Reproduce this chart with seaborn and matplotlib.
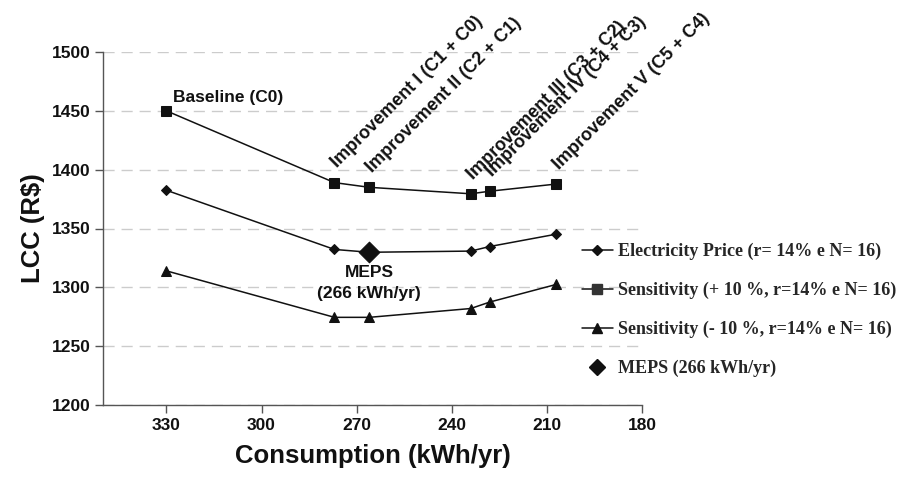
import matplotlib
matplotlib.use("Agg")
import matplotlib.pyplot as plt
import matplotlib.lines as mlines
import pandas as pd
import seaborn as sns

# ---------------------------------------------------------------------------
# Data
# ---------------------------------------------------------------------------
consumption = [330, 277, 266, 234, 228, 207]
lcc_price = [1382.5, 1332.2, 1329.8, 1330.8, 1334.7, 1345.2]
lcc_plus10 = [1450, 1389, 1385, 1379.5, 1381.7, 1387.8]
lcc_minus10 = [1314, 1274.5, 1274.5, 1282, 1287.5, 1302.5]
meps_x = [266]
meps_y = [1329.8]

improvement_labels = [
    "Improvement I (C1 + C0)",
    "Improvement II (C2 + C1)",
    "Improvement III (C3 + C2)",
    "Improvement IV (C4 + C3)",
    "Improvement V (C5 + C4)",
]
series_labels = [
    "Electricity Price (r= 14% e N= 16)",
    "Sensitivity (+ 10 %, r=14% e N= 16)",
    "Sensitivity (- 10 %, r=14% e N= 16)",
    "MEPS (266 kWh/yr)",
]
x_ticks = [330, 300, 270, 240, 210, 180]
y_ticks = [1200, 1250, 1300, 1350, 1400, 1450, 1500]

SANS = ["Liberation Sans", "DejaVu Sans"]
SERIF = ["Liberation Serif", "DejaVu Serif"]
INK = "#111111"

sns.set_theme(style="white")
plt.rcParams["font.family"] = SANS

fig = plt.figure(figsize=(9.12, 4.82), dpi=100)
ax = fig.add_axes([103 / 912, 1 - 405 / 482, (642 - 103) / 912, (405 - 52) / 482])

df = pd.DataFrame({
    "x": consumption,
    "price": lcc_price,
    "plus": lcc_plus10,
    "minus": lcc_minus10,
})

line_kw = dict(color=INK, linewidth=1.1, markeredgecolor=INK, ax=ax, legend=False)
sns.lineplot(data=df, x="x", y="price", marker="D", markersize=5, **line_kw)
sns.lineplot(data=df, x="x", y="plus", marker="s", markersize=7, **line_kw)
sns.lineplot(data=df, x="x", y="minus", marker="^", markersize=7, **line_kw)
sns.scatterplot(x=meps_x, y=meps_y, marker="D", s=110, color=INK,
                edgecolor=INK, ax=ax, legend=False, zorder=5)

# ---- axes ---------------------------------------------------------------
ax.set_xlim(350, 180)
ax.set_ylim(1200, 1500)
ax.set_xticks(x_ticks)
ax.set_yticks(y_ticks)
ax.tick_params(axis="both", which="major", labelsize=12.5, length=6, width=1,
               color="#555555", direction="out", pad=3, left=True, bottom=True)
for lab in ax.get_xticklabels() + ax.get_yticklabels():
    lab.set_fontweight("bold")
    lab.set_color(INK)

ax.yaxis.grid(True, color="#cccccc", linestyle=(0, (8, 5)), linewidth=1)
ax.xaxis.grid(False)
for side in ["top", "right"]:
    ax.spines[side].set_visible(False)
for side in ["left", "bottom"]:
    ax.spines[side].set_color("#555555")
    ax.spines[side].set_linewidth(1)

ax.set_xlabel("Consumption (kWh/yr)", fontsize=18.5, fontweight="bold",
              color=INK, labelpad=8)
ax.set_ylabel("LCC (R\\$)", fontsize=18.5, fontweight="bold", color=INK,
              labelpad=5)

# ---- annotations --------------------------------------------------------
ax.annotate("Baseline (C0)", (consumption[0], lcc_plus10[0]),
            xytext=(5, 4), textcoords="offset points", ha="left", va="bottom",
            fontsize=12.5, fontweight="bold", color=INK)

for xv, yv, lab in zip(consumption[1:], lcc_plus10[1:], improvement_labels):
    ax.annotate(lab, (xv, yv), xytext=(4, 8), textcoords="offset points",
                ha="left", va="bottom", rotation=45, rotation_mode="anchor",
                fontsize=13, fontweight="bold", color=INK,
                annotation_clip=False)

ax.annotate("MEPS\n(266 kWh/yr)", (meps_x[0], meps_y[0]), xytext=(0, -9),
            textcoords="offset points", ha="center", va="top",
            multialignment="center", linespacing=1.5,
            fontsize=12.5, fontweight="bold", color=INK)

# ---- legend -------------------------------------------------------------
handles = [
    mlines.Line2D([], [], color=INK, lw=1.1, marker="D", markersize=5),
    mlines.Line2D([], [], color=INK, lw=1.1, marker="s", markersize=7,
                  markerfacecolor="#333333", markeredgecolor="#333333"),
    mlines.Line2D([], [], color=INK, lw=1.1, marker="^", markersize=7),
    mlines.Line2D([], [], color=INK, lw=0, marker="D", markersize=8),
]
fig.legend(handles, series_labels, loc="upper left",
           bbox_to_anchor=(582 / 912, 1 - 243 / 482), frameon=False,
           prop={"family": SERIF, "weight": "bold", "size": 13},
           handlelength=1.7, handletextpad=0.3, labelspacing=1.2,
           borderpad=0, borderaxespad=0)

fig.savefig("out.png", dpi=100)
